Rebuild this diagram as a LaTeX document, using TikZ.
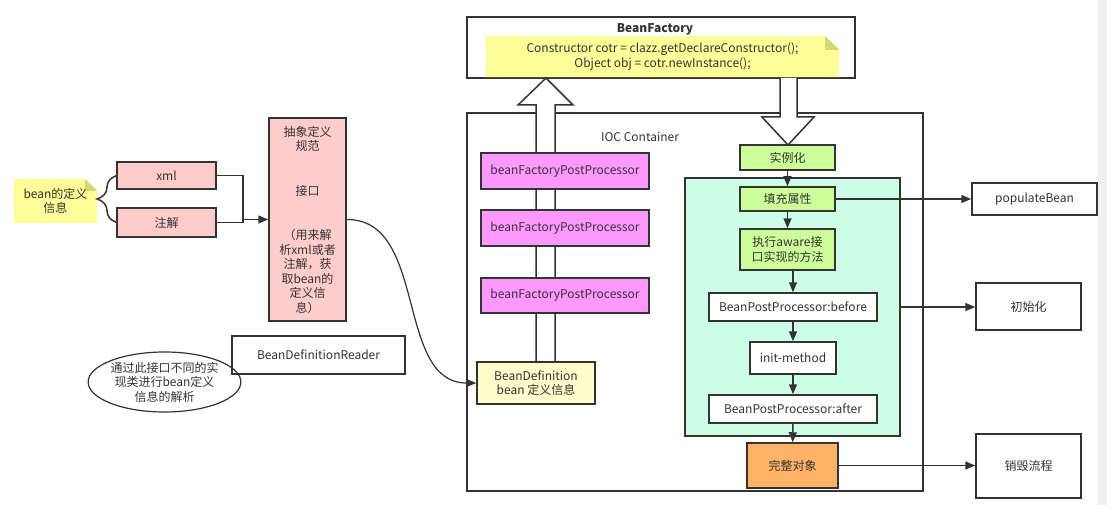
\documentclass[tikz,border=0pt]{standalone}
\usepackage{fontspec}
\setmainfont{Noto Sans CJK SC}
\usetikzlibrary{arrows.meta,shapes.geometric,decorations.pathreplacing}
\definecolor{ink}{HTML}{333333}
\definecolor{noteyellow}{HTML}{FFFF99}
\definecolor{notefold}{HTML}{D6D67A}
\definecolor{pinkbox}{HTML}{FFCCCC}
\definecolor{violetbox}{HTML}{FF99FF}
\definecolor{palebox}{HTML}{FFFFCC}
\definecolor{greenbox}{HTML}{CCFF99}
\definecolor{mintarea}{HTML}{CCFFE6}
\definecolor{orangebox}{HTML}{FFB366}
\definecolor{stripgray}{HTML}{F0F0F0}
% yellow note with a folded top right corner
\newcommand{\foldnote}[2]{%
  \fill[noteyellow](#1.north west)--([xshift=-#2]#1.north east)--([yshift=-#2]#1.north east)--(#1.south east)--(#1.south west)--cycle;
  \fill[notefold]([xshift=-#2]#1.north east)--([xshift=-#2,yshift=-#2]#1.north east)--([yshift=-#2]#1.north east)--cycle;}

\begin{document}
\begin{tikzpicture}[x=1pt,y=-1pt,
    >={Triangle[length=10pt,width=8pt]},
    txt/.style={font=\fontsize{12}{14.5}\selectfont,text=ink,align=center},
    box/.style={txt,draw=ink,line width=1.5pt,inner sep=0pt},
    line/.style={draw=ink,line width=1.5pt},
    hollow/.style={draw=ink,line width=1.5pt,fill=white}]
    \useasboundingbox(0,0)rectangle(1107,505);
    \fill[stripgray](1098,0)rectangle(1107,505);

    % left: reading the definitions
    \node[txt,minimum width=83pt,minimum height=44pt,inner sep=0pt](beaninfo)at(55.5,201){};
    \foldnote{beaninfo}{12pt}
    \node[txt]at(beaninfo){bean的定义\\信息};
    \node[box,fill=pinkbox,minimum width=99pt,minimum height=27pt](xml)at(166.5,175.5){xml};
    \node[box,fill=pinkbox,minimum width=99pt,minimum height=29pt](anno)at(166.5,222.5){注解};
    \node[box,fill=pinkbox,minimum width=77pt,minimum height=203pt](spec)at(307.5,219.5){抽象定义\\规范\\[30pt]接口\\[30pt]（用来解\\析xml或者\\注解，获\\取bean的\\定义信\\息）};
    \node[box,line width=1.2pt,minimum width=173pt,minimum height=38pt](reader)at(318.5,355){BeanDefinitionReader};
    \node[txt,draw=ink,line width=1.2pt,ellipse,inner sep=0pt,minimum width=127pt,minimum height=60pt](impl)at(164.5,382){通过此接口不同的实\\现类进行bean定义\\信息的解析};
    \coordinate(join)at(243,219.5);

    \draw[line,decorate,decoration={brace,amplitude=20pt}](117,222.5)--(117,175.5);
    \draw[line](xml.east)-|(join);
    \draw[line](anno.east)-|(join);
    \draw[line,->](join)--(spec.west);

    % BeanFactory and the container
    \node[box,minimum width=388pt,minimum height=61pt](factory)at(661,47.5){};
    \node[txt,font=\fontsize{12}{14}\selectfont\bfseries](factorytitle)at(655,29){BeanFactory};
    \node[txt,minimum width=353pt,minimum height=41pt,inner sep=0pt](code)at(662.5,56.5){};
    \foldnote{code}{14pt}
    \node[txt]at(code){Constructor cotr = clazz.getDeclareConstructor();\\Object obj = cotr.newInstance();};
    \node[box,minimum width=456pt,minimum height=378pt](ioc)at(695,302){};
    \node[txt](ioctitle)at(640,137){IOC Container};

    % hollow arrows between container and factory
    \draw[hollow](536,362)--(536,105)--(518,105)--(546,78)--(573,105)--(555,105)--(555,362);
    \draw[hollow](780,78)--(780,117)--(762,117)--(788,145)--(814,117)--(797,117)--(797,78);

    \node[box,fill=violetbox,minimum width=168pt,minimum height=36pt](bfpp1)at(565,171){beanFactoryPostProcessor};
    \node[box,fill=violetbox,minimum width=168pt,minimum height=36pt](bfpp2)at(565,228){beanFactoryPostProcessor};
    \node[box,fill=violetbox,minimum width=168pt,minimum height=35pt](bfpp3)at(565,295.5){beanFactoryPostProcessor};
    \node[box,fill=palebox,minimum width=118pt,minimum height=42pt](bdef)at(536,383){BeanDefinition\\bean 定义信息};

    \draw[ink,line width=1.2pt,->](spec.east)..controls(428,219)and(395,383)..(bdef.west);

    % bean life cycle
    \node[box,fill=mintarea,minimum width=215pt,minimum height=258pt](cycle)at(792.5,307){};
    \node[box,fill=greenbox,minimum width=95pt,minimum height=25pt](inst)at(787.5,157.5){实例化};
    \node[box,fill=greenbox,minimum width=95pt,minimum height=24pt](fillprop)at(787.5,199){填充属性};
    \node[box,fill=greenbox,minimum width=95pt,minimum height=41pt](aware)at(787.5,249.5){执行aware接\\口实现的方法};
    \node[box,fill=white,minimum width=168pt,minimum height=28pt](before)at(793,307){BeanPostProcessor:before};
    \node[box,fill=white,minimum width=86pt,minimum height=32pt](initm)at(793,358){init-method};
    \node[box,fill=white,minimum width=168pt,minimum height=28pt](after)at(793,409){BeanPostProcessor:after};
    \node[box,fill=orangebox,minimum width=91pt,minimum height=45pt](whole)at(792.5,465.5){完整对象};

    \draw[line,->](inst)--(fillprop);
    \draw[line,->](fillprop)--(aware);
    \draw[line,->](before.north|-aware.south)--(before.north);
    \draw[line,->](before)--(initm);
    \draw[line,->](initm)--(after);
    \draw[line,->](after)--(whole);

    % right side
    \node[box,minimum width=125pt,minimum height=32pt](popbean)at(1034.5,199){populateBean};
    \node[box,minimum width=105pt,minimum height=47pt](initbox)at(1028.5,306.5){初始化};
    \node[box,minimum width=105pt,minimum height=64pt](destroy)at(1028.5,466){销毁流程};

    \draw[line,->](fillprop.east)--(popbean.west);
    \draw[line,->](cycle.east)--(initbox.west|-cycle.east);
    \draw[line,->](whole.east)--(destroy.west|-whole.east);
\end{tikzpicture}
\end{document}
